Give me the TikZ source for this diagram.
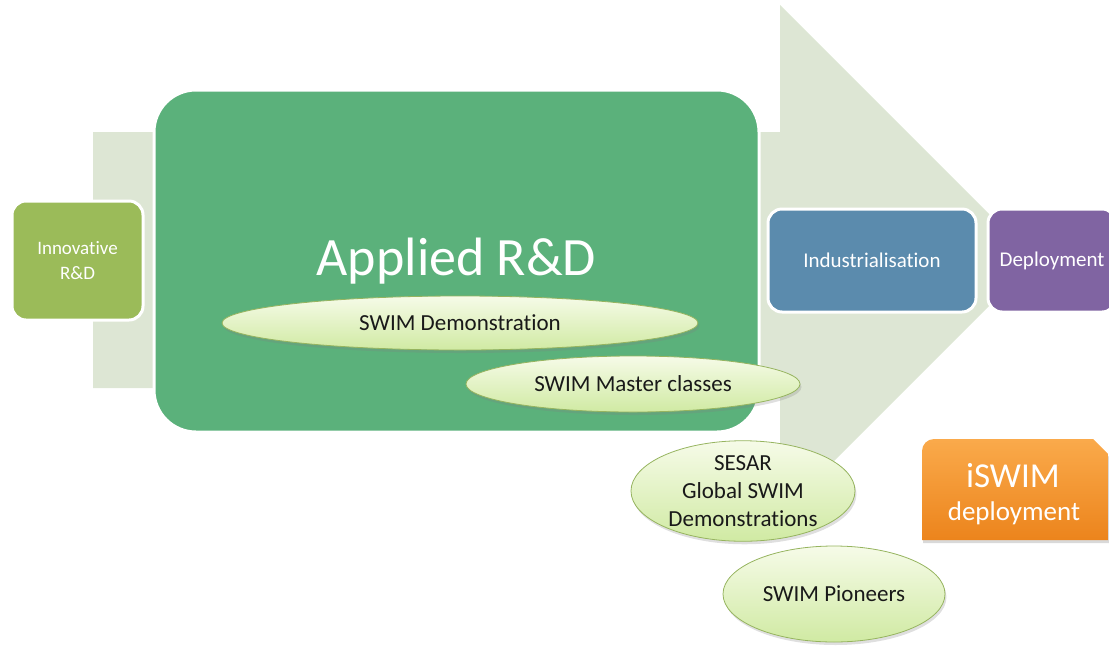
\documentclass[tikz,border=0pt]{standalone}
\usepackage{fontspec}
\setmainfont{Carlito}[Ligatures=NoCommon]
\usetikzlibrary{shapes.geometric,shadows}

\definecolor{arrowgrey}{RGB}{221,230,212}
\definecolor{innogreen}{RGB}{155,187,89}
\definecolor{appliedgreen}{RGB}{91,177,123}
\definecolor{indusblue}{RGB}{91,139,173}
\definecolor{deploypurple}{RGB}{128,100,162}
\definecolor{bubbletop}{RGB}{246,251,232}
\definecolor{bubblebot}{RGB}{208,234,163}
\definecolor{bubbleline}{RGB}{150,180,95}
\definecolor{orangetop}{RGB}{250,170,75}
\definecolor{orangebot}{RGB}{236,132,28}

\tikzset{
  phase/.style={rectangle, rounded corners=14pt, draw=white, line width=3pt,
    text=white, inner sep=0pt, align=center,
    font=\fontsize{21}{25}\selectfont},
  bubble/.style={ellipse, draw=bubbleline, line width=0.8pt, inner sep=0pt,
    top color=bubbletop, bottom color=bubblebot, align=center,
    font=\fontsize{23}{28}\selectfont, text=black!90,
    drop shadow={opacity=0.25, shadow xshift=1.5pt, shadow yshift=-3pt}}
}

\begin{document}
\begin{tikzpicture}[x=1pt,y=-1pt]
\clip (0,0) rectangle (1109,649);
\useasboundingbox (0,0) rectangle (1109,649);

% big background arrow
\fill[arrowgrey] (93,132) -- (780,132) -- (780,5) -- (1035,260)
  -- (780,515) -- (780,388) -- (93,388) -- cycle;

% phases
\node[phase, fill=appliedgreen, rounded corners=42pt, minimum width=605pt,
  minimum height=342pt, font=\fontsize{54}{60}\selectfont] (applied) at (456.5,261) {Applied R\&D};
\node[phase, fill=innogreen, minimum width=131pt, minimum height=119pt,
  font=\fontsize{19}{25}\selectfont] (inno) at (77.5,260.5) {Innovative\\R\&D};
\node[phase, fill=indusblue, minimum width=208pt, minimum height=103pt] (indus) at (872,260.5) {Industrialisation};
\node[phase, fill=deploypurple, minimum width=128pt, minimum height=103pt] (deploy) at (1052,260.5) {Deployment};

% activities
\node[bubble, minimum width=476pt, minimum height=54pt] (demo) at (460,323) {SWIM Demonstration};
\node[bubble, minimum width=334pt, minimum height=56pt] (master) at (633,384) {SWIM Master classes};
\node[bubble, minimum width=224pt, minimum height=96pt] (sesar) at (743,491) {SESAR\\Global SWIM\\Demonstrations};
\node[bubble, minimum width=222pt, minimum height=96pt] (pioneers) at (834,594) {SWIM Pioneers};

% iSWIM
\path[top color=orangetop, bottom color=orangebot,
  drop shadow={opacity=0.3, shadow xshift=1pt, shadow yshift=-3pt}]
  (922,540) -- (922,451) arc[start angle=180, end angle=90, radius=12pt]
  -- (1093,439) -- (1108,454) -- (1108,540) -- cycle;
\node[text=white, inner sep=0pt, font=\fontsize{35}{38}\selectfont] (iswim) at (1013,476) {iSWIM};
\node[text=white, inner sep=0pt, font=\fontsize{27}{30}\selectfont] (iswimsub) at (1014,513) {deployment};
\end{tikzpicture}
\end{document}
